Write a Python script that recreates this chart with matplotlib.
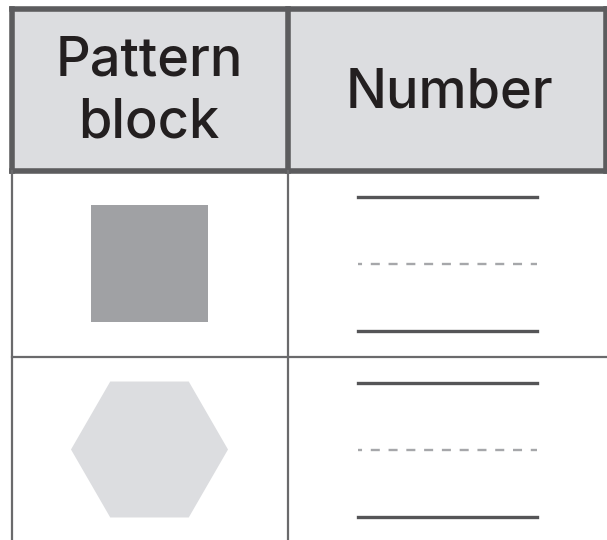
import matplotlib.pyplot as plt
from matplotlib.patches import Rectangle, RegularPolygon
import numpy as np

# table content
header_labels = [['Pattern', 'block'], ['Number']]
row_shapes = ['square', 'hexagon']
shape_colors = {'square': '#a0a1a4', 'hexagon': '#dcdde0'}

W, H = 607, 540
fig = plt.figure(figsize=(W / 100, H / 100), dpi=100)
ax = fig.add_axes([0, 0, 1, 1])
ax.set_xlim(0, W)
ax.set_ylim(H, 0)
ax.axis('off')

border = '#5c5c5e'
thin = '#6a6a6c'

# column / row geometry (pixels)
col_x = [11.5, 287.5, 605.5]
head_top, head_bot = 8.5, 170.5
row_h = 186

# header
ax.add_patch(Rectangle((col_x[0], head_top), col_x[2] - col_x[0], head_bot - head_top,
                       facecolor='#dcdde0', edgecolor='none', zorder=1))
ax.plot([col_x[0], col_x[2]], [head_top, head_top], color=border, lw=4, zorder=3, solid_capstyle='projecting')
ax.plot([col_x[0], col_x[2]], [head_bot, head_bot], color=border, lw=4, zorder=3, solid_capstyle='projecting')
for x in col_x:
    ax.plot([x, x], [head_top, head_bot], color=border, lw=4, zorder=3, solid_capstyle='projecting')

centers_x = [149, 449]
baselines = [[76, 138], [108]]
for cx, lines, bls in zip(centers_x, header_labels, baselines):
    for lab, bl in zip(lines, bls):
        ax.text(cx, bl, lab, ha='center', va='baseline', fontsize=39, family='Inter',
                fontweight='medium', color='#231f20', zorder=4)

# body grid
for x in col_x[:2]:
    ax.plot([x, x], [head_bot, H], color=thin, lw=1.6, zorder=3)
for i in range(1, len(row_shapes)):
    y = head_bot + i * row_h
    ax.plot([col_x[0], W], [y, y], color=thin, lw=1.6, zorder=3)

# shapes and writing lines
lx0, lx1 = 358, 537
dash_lw = 1.7
for i, shape in enumerate(row_shapes):
    y0 = head_bot + i * row_h
    cx, cy = 149.5, y0 + 93
    if shape == 'square':
        s = 117
        ax.add_patch(Rectangle((cx - s / 2, cy - s / 2), s, s, facecolor=shape_colors[shape],
                               edgecolor='none', zorder=2))
    else:
        ax.add_patch(RegularPolygon((cx, cy), 6, radius=78.5, orientation=np.pi / 6,
                                    facecolor=shape_colors[shape], edgecolor='none', zorder=2))
    ly = y0 + 26
    ax.plot([lx0, lx1], [ly, ly], color='#555557', lw=2.4, zorder=3)
    ax.plot([lx0, lx1], [ly + 67, ly + 67], color='#a6a7aa', lw=dash_lw, zorder=3,
            linestyle=(3.6 / dash_lw, (6.5 / dash_lw, 6.3 / dash_lw)))
    ax.plot([lx0, lx1], [ly + 134, ly + 134], color='#555557', lw=2.4, zorder=3)

fig.savefig('out.png', dpi=100)
